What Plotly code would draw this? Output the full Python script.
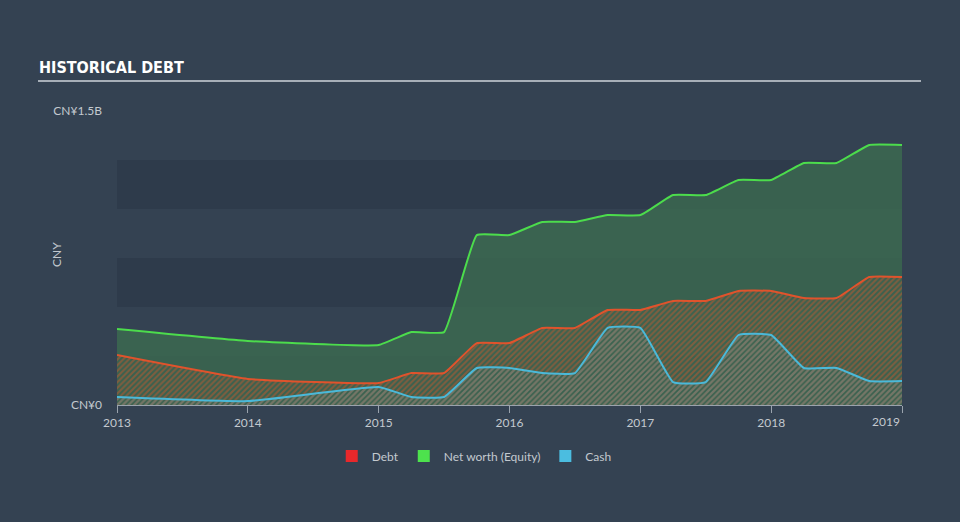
import plotly.graph_objects as go

# ---- data (values in CNY) ----
dates = [2013, 2014, 2015, 2015.25, 2015.5, 2015.75, 2016, 2016.25, 2016.5, 2016.75,
         2017, 2017.25, 2017.5, 2017.75, 2018, 2018.25, 2018.5, 2018.75, 2019]
net_worth = [0.388, 0.327, 0.306, 0.372, 0.372, 0.867, 0.867, 0.934, 0.934, 0.969,
             0.969, 1.071, 1.071, 1.148, 1.148, 1.235, 1.235, 1.327, 1.327]
debt = [0.255, 0.133, 0.112, 0.163, 0.163, 0.316, 0.316, 0.393, 0.393, 0.485,
        0.485, 0.531, 0.531, 0.582, 0.582, 0.546, 0.546, 0.653, 0.653]
cash = [0.041, 0.020, 0.092, 0.041, 0.041, 0.189, 0.189, 0.163, 0.163, 0.393,
        0.393, 0.117, 0.117, 0.357, 0.357, 0.189, 0.189, 0.122, 0.122]
scale = 1e9
net_worth = [v * scale for v in net_worth]
debt = [v * scale for v in debt]
cash = [v * scale for v in cash]

year_ticks = [2013, 2014, 2015, 2016, 2017, 2018, 2019]
year_labels = ["2013", "2014", "2015", "2016", "2017", "2018", ""]
y_ticks = [0, 1.5e9]
y_labels = ["CN¥0", "CN¥1.5B"]
band_edges = [(0, 0.25e9), (0.5e9, 0.75e9), (1.0e9, 1.25e9)]

BG = "#344252"
BAND = "#2e3b4b"
TXT = "#c3c9cf"
AX = "#9aa3ad"
FONT = "Lato, Open Sans, sans-serif"
SMOOTH = 0.35

fig = go.Figure()

fig.add_trace(go.Scatter(
    x=dates, y=net_worth, mode="lines", line=dict(color="#4cdc4c", width=2, shape="spline", smoothing=SMOOTH),
    fill="tozeroy", fillcolor="rgba(60,108,80,0.80)", showlegend=False, hoverinfo="skip"))
fig.add_trace(go.Scatter(
    x=dates, y=debt, mode="lines", line=dict(color="#e0532c", width=2, shape="spline", smoothing=SMOOTH),
    fill="tozeroy", fillcolor="rgba(0,0,0,0)",
    fillpattern=dict(shape="/", fgcolor="#c8592e", bgcolor="rgba(0,0,0,0)", size=4, solidity=0.5),
    showlegend=False, hoverinfo="skip"))
fig.add_trace(go.Scatter(
    x=dates, y=cash, mode="lines", line=dict(color="#4ab9d9", width=2, shape="spline", smoothing=SMOOTH),
    fill="tozeroy", fillcolor="rgba(0,0,0,0)",
    fillpattern=dict(shape="/", fgcolor="#6a9090", bgcolor="rgba(0,0,0,0)", size=4, solidity=0.55),
    showlegend=False, hoverinfo="skip"))

# legend entries
for name, col in [("Debt", "#e8282b"), ("Net worth (Equity)", "#4de24d"), ("Cash", "#4bbde0")]:
    fig.add_trace(go.Bar(x=[None], y=[None], name=name, marker=dict(color=col, line=dict(width=0))))

for lo, hi in band_edges:
    fig.add_shape(type="rect", xref="x", yref="y", x0=2013, x1=2019, y0=lo, y1=hi,
                  fillcolor=BAND, line=dict(width=0), layer="below")

# title + underline
fig.add_annotation(text="<b>HISTORICAL DEBT</b>", xref="paper", yref="paper",
                   x=(37 - 117) / 785, y=(405 - 68) / 294, xanchor="left", yanchor="middle",
                   showarrow=False,
                   font=dict(family="Liberation Sans Narrow, DejaVu Sans Condensed, sans-serif", size=16, color="#ffffff"))
fig.add_shape(type="line", xref="paper", yref="paper",
              x0=(38 - 117) / 785, x1=(921 - 117) / 785, y0=(405 - 81) / 294, y1=(405 - 81) / 294,
              line=dict(color="#a7afb8", width=2))
fig.add_annotation(text="CNY", xref="paper", yref="paper", x=(56 - 117) / 785, y=(405 - 255) / 294,
                   textangle=-90, showarrow=False, xanchor="center", yanchor="middle",
                   font=dict(family=FONT, size=12, color=TXT))
fig.add_annotation(text="2019", xref="x", yref="paper", x=2019, y=0, xanchor="right", yanchor="top",
                   yshift=-7, showarrow=False, font=dict(family=FONT, size=12, color=TXT))

fig.update_layout(
    width=960, height=522,
    margin=dict(l=117, r=58, t=111, b=117),
    paper_bgcolor=BG, plot_bgcolor=BG,
    barmode="overlay",
    showlegend=True,
    legend=dict(orientation="h", xref="container", yref="container", x=0.494, y=1 - 456 / 522,
                xanchor="center", yanchor="middle", font=dict(family=FONT, size=12, color=TXT),
                bgcolor="rgba(0,0,0,0)", itemwidth=30),
    xaxis=dict(range=[2013, 2019], tickvals=year_ticks, ticktext=year_labels, showgrid=False,
               zeroline=False, showline=True, linecolor=AX, linewidth=1, ticks="outside",
               ticklen=7, tickcolor=AX, tickfont=dict(family=FONT, size=12, color=TXT)),
    yaxis=dict(range=[0, 1.5e9], tickvals=y_ticks, ticktext=y_labels, showgrid=False,
               zeroline=False, showline=False, ticks="", ticklabelstandoff=14,
               tickfont=dict(family=FONT, size=12, color=TXT)),
)

fig.write_html("out.html")
